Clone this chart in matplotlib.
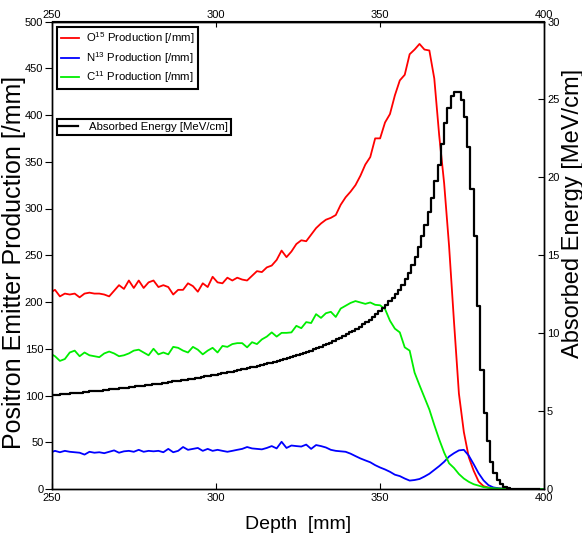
import numpy as np
import matplotlib
matplotlib.use("Agg")
import matplotlib.pyplot as plt

plt.rcParams["font.family"] = ["Liberation Sans", "DejaVu Sans"]
plt.rcParams["mathtext.default"] = "regular"

# depth grid for the production curves [mm]
depth = np.arange(249.5, 400, 1.5)

o15 = [
    210, 213, 206, 209, 208, 209, 205, 209, 210, 209,
    209, 208, 206, 212, 218, 214, 223, 215, 223, 215,
    221, 223, 216, 218, 216, 208, 213, 213, 220, 217,
    211, 220, 216, 227, 221, 220, 226, 223, 226, 224,
    223, 228, 233, 232, 237, 239, 245, 255, 248, 254,
    262, 266, 265, 272, 279, 284, 288, 290, 293, 304,
    312, 318, 325, 335, 347, 355, 375, 375, 392, 401,
    421, 437, 443, 465, 470, 476, 470, 469, 439, 378,
    327, 260, 179, 102, 61, 34, 19.5, 8, 3, 1.5,
    1, 0.5, 0.2, 0, 0, 0, 0, 0, 0, 0,
    0,
]

n13 = [
    38.8, 40.8, 39.3, 40.8, 39.8, 39.3, 38.8, 36.8, 39.8, 38.8,
    39.3, 38.3, 39.8, 41.3, 38.8, 40.3, 40.8, 39.8, 41.9, 39.8,
    40.8, 40.3, 40.8, 39.3, 42.9, 39.3, 40.8, 44.9, 41.9, 42.9,
    43.9, 40.8, 42.9, 40.8, 41.9, 40.8, 39.8, 40.8, 41.9, 42.9,
    44.9, 43.4, 42.9, 42.4, 43.9, 45.9, 43.4, 50.5, 43.9, 46.5,
    45.9, 45.4, 47.5, 42.9, 47.0, 45.9, 44.4, 41.9, 40.8, 40.3,
    39.8, 37.8, 35.2, 32.7, 30.6, 28.6, 25.5, 23.0, 20.9, 18.4,
    15.3, 13.8, 11.2, 9.0, 9.6, 10.7, 13.3, 16.3, 20.4, 24.5,
    29.1, 34.7, 38.3, 41.3, 41.9, 35.7, 26.5, 16.8, 9.2, 4.1,
    1.7, 0.8, 0.3, 0.1, 0, 0, 0, 0, 0, 0,
    0,
]

c11 = [
    145, 142, 137, 139, 146, 148, 142, 146, 143, 142,
    141, 145, 147, 145, 142, 143, 145, 148, 149, 146,
    143, 150, 144, 146, 144, 152, 151, 148, 146, 152,
    149, 144, 148, 151, 146, 153, 152, 155, 156, 156,
    151.5, 157, 155, 160, 163, 167.5, 163, 167, 167, 167.5,
    174.5, 172, 178.5, 177.5, 187, 183, 188, 189.5, 184, 193,
    196, 199, 201, 199.5, 198, 199.5, 197, 196.5, 192.5, 180,
    171.5, 167.5, 151.5, 148, 124.5, 111, 98, 85, 68.5, 53,
    39, 27.5, 22.5, 16, 11.2, 7.7, 5.1, 3.6, 2, 1.3,
    0.8, 0.5, 0.3, 0.1, 0, 0, 0, 0, 0, 0,
    0,
]

# absorbed energy in 1 mm bins [MeV/cm]
bins = np.arange(249.5, 399)
energy = [
    6.02, 6.04, 6.06, 6.08, 6.10, 6.12, 6.14, 6.15, 6.17, 6.19,
    6.21, 6.23, 6.26, 6.28, 6.30, 6.32, 6.34, 6.36, 6.39, 6.41,
    6.44, 6.46, 6.48, 6.51, 6.53, 6.56, 6.58, 6.61, 6.64, 6.66,
    6.69, 6.72, 6.74, 6.77, 6.80, 6.83, 6.86, 6.90, 6.93, 6.96,
    6.99, 7.02, 7.05, 7.09, 7.12, 7.15, 7.19, 7.22, 7.26, 7.30,
    7.34, 7.37, 7.42, 7.46, 7.50, 7.54, 7.58, 7.63, 7.67, 7.71,
    7.76, 7.80, 7.85, 7.91, 7.96, 8.01, 8.06, 8.11, 8.17, 8.22,
    8.28, 8.34, 8.40, 8.47, 8.53, 8.60, 8.67, 8.74, 8.81, 8.88,
    8.97, 9.05, 9.13, 9.22, 9.31, 9.40, 9.50, 9.60, 9.70, 9.81,
    9.92, 10.05, 10.17, 10.29, 10.42, 10.57, 10.72, 10.87, 11.03, 11.20,
    11.42, 11.63, 11.83, 12.04, 12.24, 12.50, 12.77, 13.11, 13.46, 13.87,
    14.38, 14.89, 15.50, 16.22, 16.93, 17.75, 18.67, 19.79, 20.81, 22.13,
    23.46, 24.48, 25.19, 25.50, 25.45, 24.99, 23.87, 21.93, 19.28, 16.22,
    11.73, 7.65, 4.90, 3.06, 1.73, 1.02, 0.58, 0.31, 0.15, 0.05,
    0, 0, 0, 0, 0, 0, 0, 0, 0, 0,
]

fig = plt.figure(figsize=(5.82, 5.36), dpi=100)
ax = fig.add_axes([51.7 / 582, 47 / 536, 492.6 / 582, 467.5 / 536])

l1, = ax.plot(depth, o15, color="#ff0000", lw=1.3, label="O$^{15}$ Production [/mm]")
l2, = ax.plot(depth, n13, color="#0000ff", lw=1.3, label="N$^{13}$ Production [/mm]")
l3, = ax.plot(depth, c11, color="#00ee00", lw=1.3, label="C$^{11}$ Production [/mm]")
ax.set_xlim(250, 400)
ax.set_ylim(0, 500)
ax.set_xticks([250, 300, 350, 400])
ax.set_yticks(np.arange(0, 501, 50))
ax.tick_params(axis="x", direction="in", labelsize=8, length=4, pad=3)
ax.tick_params(axis="y", direction="out", labelsize=8, length=5, pad=1)
ax.set_xlabel("Depth  [mm]", fontsize=14, labelpad=9)
ax.set_ylabel("Positron Emitter Production [/mm]", fontsize=18)
ax.yaxis.set_label_coords(-0.053, 0.485)

ax2 = ax.twinx()
l4, = ax2.step(bins, energy, where="post", color="black", lw=1.6,
               label="Absorbed Energy [MeV/cm]")
ax2.set_ylim(0, 30)
ax2.set_yticks(np.arange(0, 31, 5))
ax2.tick_params(direction="in", labelsize=8, length=4, pad=2)
ax2.set_ylabel("Absorbed Energy [MeV/cm]", fontsize=17)
ax2.yaxis.set_label_coords(1.035, 0.59)

top = ax.secondary_xaxis("top")
top.set_xticks([250, 300, 350, 400])
top.tick_params(direction="in", labelsize=8, length=4, pad=1)

for a in (ax, ax2):
    for s in a.spines.values():
        s.set_linewidth(1.0)

leg1 = ax2.legend(handles=[l1, l2, l3], loc="upper left",
                  bbox_to_anchor=(0.01, 0.989), borderaxespad=0,
                  fontsize=8.2, fancybox=False,
                  framealpha=1, edgecolor="black", handlelength=1.6,
                  borderpad=0.35, labelspacing=0.3, handletextpad=0.6)
leg1.get_frame().set_linewidth(1.5)
ax2.add_artist(leg1)
leg2 = ax2.legend(handles=[l4], loc="upper left",
                  bbox_to_anchor=(0.01, 0.791), borderaxespad=0,
                  fontsize=8.2, fancybox=False,
                  framealpha=1, edgecolor="black", handlelength=1.6,
                  borderpad=0.25, handletextpad=1.0)
leg2.get_frame().set_linewidth(1.5)

fig.savefig("out.png", dpi=100)
